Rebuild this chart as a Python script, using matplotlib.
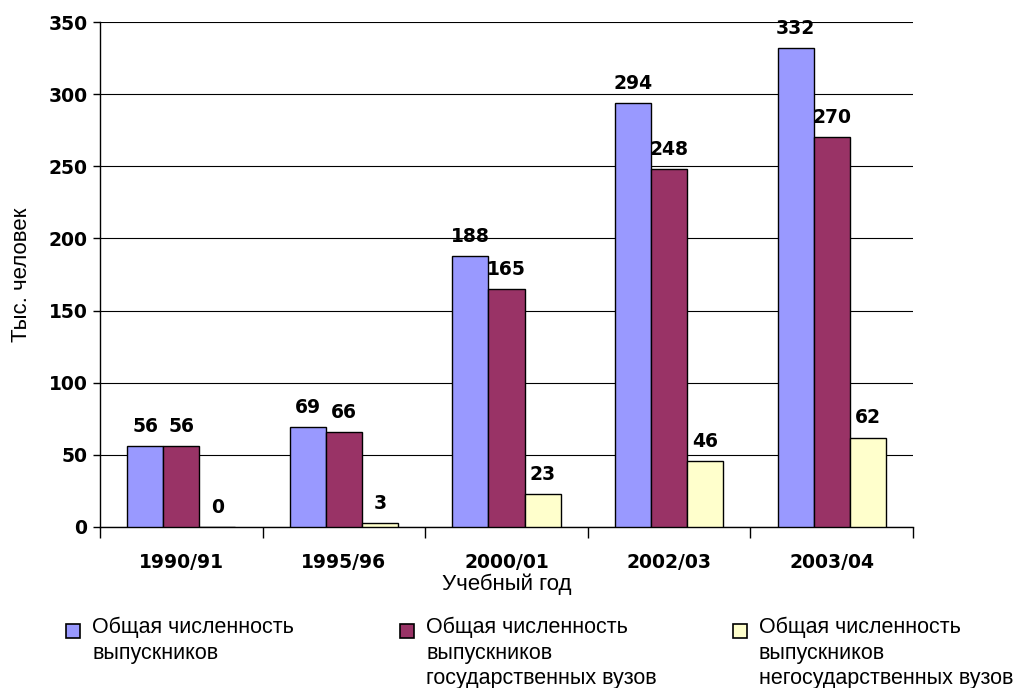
import matplotlib
matplotlib.use("Agg")
import matplotlib.pyplot as plt
import numpy as np
from matplotlib.patches import Rectangle

categories = ["1990/91", "1995/96", "2000/01", "2002/03", "2003/04"]
total = [56, 69, 188, 294, 332]
state = [56, 66, 165, 248, 270]
nonstate = [0, 3, 23, 46, 62]
series_labels = [
    "Общая численность\nвыпускников",
    "Общая численность\nвыпускников\nгосударственных вузов",
    "Общая численность\nвыпускников\nнегосударственных вузов",
]
colors = ["#9999FF", "#993366", "#FFFFCC"]
yticks = [0, 50, 100, 150, 200, 250, 300, 350]

REG = ["Liberation Sans", "DejaVu Sans"]
BOLD = "DejaVu Sans"
NUMSIZE = 13.5
TXTSIZE = 16
LEGSIZE = 15.5

fig = plt.figure(figsize=(10.24, 6.88), dpi=100)
ax = fig.add_axes([100/1024, 1-527/688, 813/1024, 505/688])

x = np.arange(len(categories))
w = 0.222
series = [total, state, nonstate]
for i, (vals, c) in enumerate(zip(series, colors)):
    pos = x + (i - 1) * w
    ax.bar(pos, vals, width=w, color=c, edgecolor="black", linewidth=1.0, zorder=3)
    for p, v in zip(pos, vals):
        ax.text(p, v + 7, str(v), ha="center", va="bottom", fontsize=NUMSIZE,
                fontweight="bold", family=BOLD, zorder=4)

ax.set_xlim(-0.5, len(categories) - 0.5)
ax.set_ylim(0, 350)
ax.set_yticks(yticks)
ax.set_yticklabels([str(t) for t in yticks], fontsize=NUMSIZE, fontweight="bold", family=BOLD)
ax.yaxis.grid(True, color="black", linewidth=0.8, zorder=0)
ax.set_axisbelow(True)
ax.set_xticks(np.arange(len(categories) + 1) - 0.5)
ax.set_xticklabels([])
ax.set_xticks(x, minor=True)
ax.set_xticklabels(categories, minor=True, fontsize=NUMSIZE, fontweight="bold", family=BOLD)
ax.tick_params(axis="x", which="minor", length=0, pad=19)
ax.tick_params(axis="x", which="major", length=8, direction="out", width=1)
ax.tick_params(axis="y", length=5, width=1, pad=4)
for s in ["top", "right"]:
    ax.spines[s].set_visible(False)
for s in ["left", "bottom"]:
    ax.spines[s].set_linewidth(1.0)

ax.set_xlabel("Учебный год", fontsize=TXTSIZE, labelpad=1, family=REG)
ax.set_ylabel("Тыс. человек", fontsize=TXTSIZE, labelpad=12, family=REG)

# Legend drawn manually
text_x = [92, 426, 759]
for tx, lab, c in zip(text_x, series_labels, colors):
    fig.patches.append(Rectangle(((tx-26)/1024, 1-638/688), 14/1024, 14/688,
                                 transform=fig.transFigure, facecolor=c,
                                 edgecolor="black", linewidth=1.2))
    fig.text(tx/1024, 1-617/688, lab, ha="left", va="top", fontsize=LEGSIZE,
             family=REG, linespacing=1.28)

fig.savefig("out.png", dpi=100)
